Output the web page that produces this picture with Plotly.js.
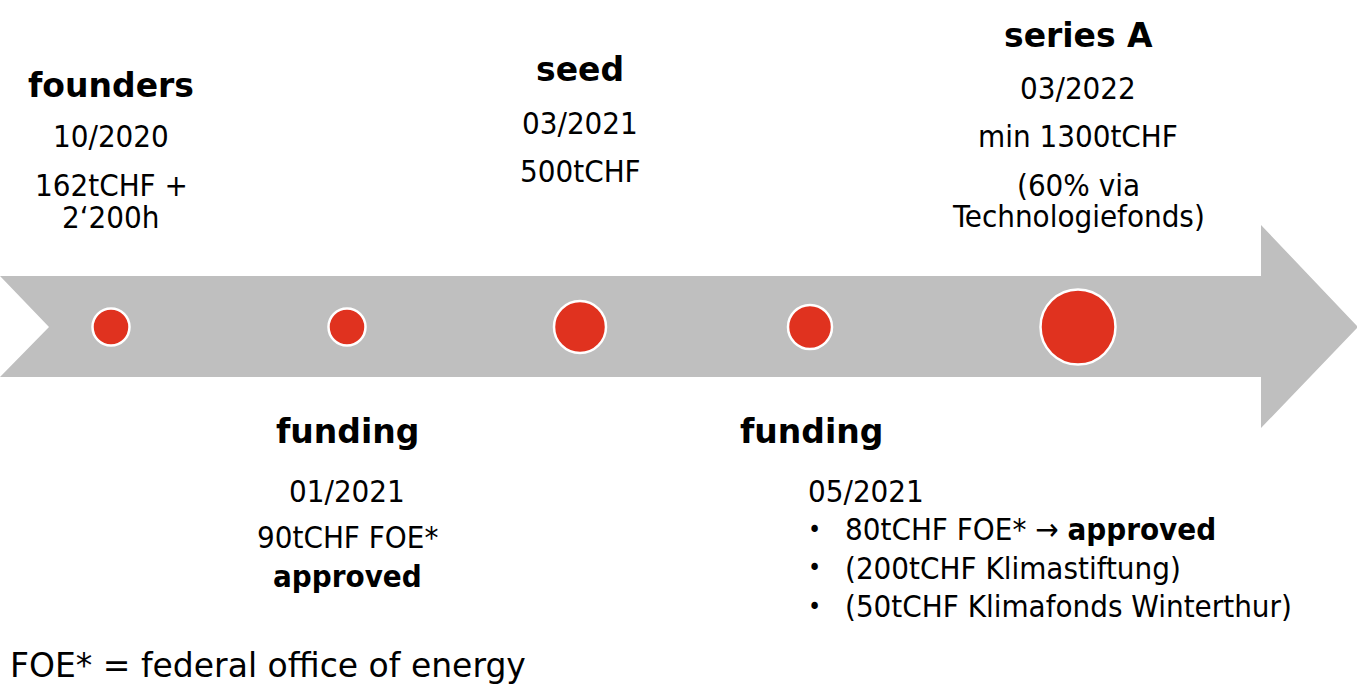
<!DOCTYPE html>
<html>
<head>
<meta charset="utf-8">
<script src="https://cdn.plot.ly/plotly-3.0.1.min.js"></script>
<style>html,body{margin:0;padding:0;background:#fff;}#chart{width:1357px;height:691px;}</style>
</head>
<body>
<div id="chart"></div>
<script>
// ---- data ----
const milestones = ["founders", "funding", "seed", "funding", "series A"];
const dates = ["10/2020", "01/2021", "03/2021", "05/2021", "03/2022"];
const details = [
  ["162tCHF +", "2‘200h"],
  ["90tCHF FOE*", "<b>approved</b>"],
  ["500tCHF"],
  ["80tCHF FOE* → <b>approved</b>", "(200tCHF Klimastiftung)", "(50tCHF Klimafonds Winterthur)"],
  ["min 1300tCHF", "(60% via", "Technologiefonds)"]
];
const footnote = "FOE* = federal office of energy";

// ---- layout (positions / sizes / styles) ----
const W = 1357, H = 691;
const FONT = "'DejaVu Sans Condensed', 'DejaVu Sans', sans-serif";
const FONT_WIDE = "'DejaVu Sans', sans-serif";
const slotX = [111, 347, 580, 810, 1078];     // timeline positions (px-scale axis)
const axisY = 327;
const dotSize = [37, 37, 52, 44, 75];
const red = "#E0321F";
const grey = "#BFBFBF";
const BODY = 31, TITLE = 33, FOOT = 33;

const blocks = [
  {titleY: 85,  dateY: 136, detY: [185, 217], align: "center"},
  {titleY: 431, dateY: 491, detY: [537, 576], align: "center"},
  {titleY: 69,  dateY: 123, detY: [171], align: "center"},
  {titleY: 431, dateY: 491, detY: [529, 567.5, 606], align: "bullets", titleX: 738, dateX: 806, bulletX: 806, textX: 843},
  {titleY: 35,  dateY: 88,  detY: [136, 185, 216], align: "center"}
];

const annotations = [];
function ann(text, x, y, size, xanchor, family) {
  annotations.push({
    text: text, x: x, y: y, xref: "x", yref: "y",
    xanchor: xanchor || "center", yanchor: "middle",
    showarrow: false, font: {family: family || FONT, size: size, color: "#000"}
  });
}
milestones.forEach((m, i) => {
  const b = blocks[i];
  if (b.align === "center") {
    ann("<b>" + m + "</b>", slotX[i], b.titleY, TITLE, "center", FONT_WIDE);
    ann(dates[i], slotX[i], b.dateY, BODY);
    details[i].forEach((t, j) => ann(t, slotX[i], b.detY[j], BODY));
  } else {
    ann("<b>" + m + "</b>", b.titleX, b.titleY, TITLE, "left", FONT_WIDE);
    ann(dates[i], b.dateX, b.dateY, BODY, "left");
    details[i].forEach((t, j) => {
      ann("•", b.bulletX, b.detY[j], BODY * 0.8, "left");
      ann(t, b.textX, b.detY[j], BODY, "left");
    });
  }
});
ann(footnote, 8, 665.5, FOOT, "left", FONT_WIDE);

const arrowPath = "M0,276 L1261,276 L1261,225 L1358,327 L1261,428 L1261,377 L0,377 L49,327 Z";

const trace = {
  type: "scatter", mode: "markers",
  x: slotX, y: slotX.map(() => axisY),
  text: milestones.map((m, i) => m + " " + dates[i]),
  hoverinfo: "text",
  marker: {size: dotSize, color: red, opacity: 1, line: {color: "#fff", width: 2.5}},
  showlegend: false
};

const layout = {
  width: W, height: H,
  margin: {l: 0, r: 0, t: 0, b: 0},
  paper_bgcolor: "#fff", plot_bgcolor: "#fff",
  xaxis: {range: [0, W], visible: false, fixedrange: true},
  yaxis: {range: [H, 0], visible: false, fixedrange: true},
  shapes: [{type: "path", path: arrowPath, xref: "x", yref: "y", fillcolor: grey, line: {width: 0}, layer: "below"}],
  annotations: annotations,
  showlegend: false
};

Plotly.newPlot("chart", [trace], layout, {displayModeBar: false, staticPlot: true});
</script>
</body>
</html>
